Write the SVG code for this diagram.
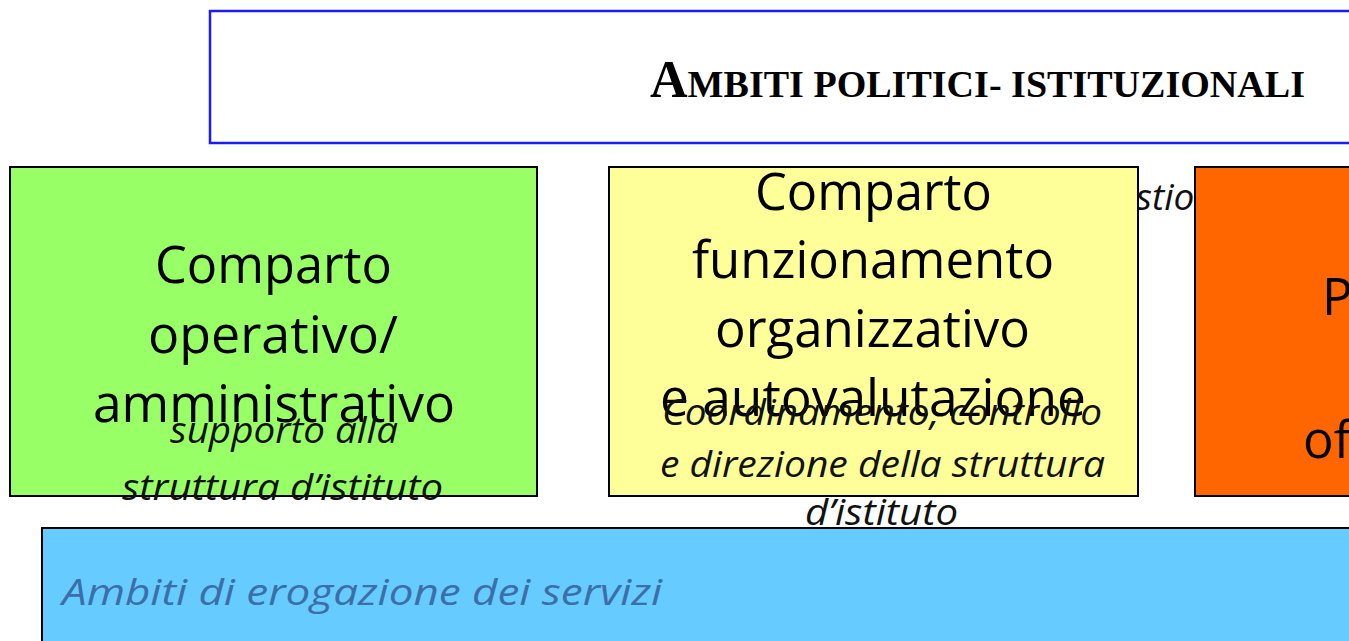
<svg xmlns="http://www.w3.org/2000/svg" width="1349" height="641" viewBox="0 0 1349 641">
<style>
.box{stroke:#000;stroke-width:2}
.big{font-family:"Open Sans","Noto Sans",sans-serif;font-size:51px;fill:#000;text-anchor:start}
.it{font-family:"Open Sans","Noto Sans",sans-serif;font-style:italic;font-size:37px;fill:#111}
.title{font-family:"Liberation Serif","Times New Roman",serif;font-weight:bold;fill:#000}
</style>
<rect width="1349" height="641" fill="#fff"/>
<g id="title">
<rect x="210" y="11" width="1150" height="132" fill="#fff" stroke="#1a1aff" stroke-width="2.5"/>
<text class="title" x="650" y="97" textLength="655" lengthAdjust="spacingAndGlyphs"><tspan font-size="52">A</tspan><tspan font-size="38">MBITI POLITICI- ISTITUZIONALI</tspan></text>
</g>
<g id="hidden-label">
<text class="it" x="1136" y="210">stio</text>
</g>
<g id="comparto-operativo">
<rect class="box" x="10" y="167" width="527" height="329" fill="#99ff66"/>
<text class="big" x="155" y="283" textLength="237" lengthAdjust="spacingAndGlyphs">Comparto</text>
<text class="big" x="148" y="353" textLength="250" lengthAdjust="spacingAndGlyphs">operativo/</text>
<text class="big" x="93" y="422" textLength="362" lengthAdjust="spacingAndGlyphs">amministrativo</text>
<text class="it" x="170" y="443" textLength="228" lengthAdjust="spacingAndGlyphs">supporto alla</text>
<text class="it" x="122" y="500" textLength="321" lengthAdjust="spacingAndGlyphs">struttura d’istituto</text>
</g>
<g id="comparto-funzionamento">
<rect class="box" x="609" y="167" width="529" height="329" fill="#ffff99"/>
<text class="big" x="755" y="210" textLength="237" lengthAdjust="spacingAndGlyphs">Comparto</text>
<text class="big" x="692" y="278" textLength="362" lengthAdjust="spacingAndGlyphs">funzionamento</text>
<text class="big" x="715" y="347" textLength="315" lengthAdjust="spacingAndGlyphs">organizzativo</text>
<text class="big" x="660" y="416" textLength="426" lengthAdjust="spacingAndGlyphs">e autovalutazione</text>
<text class="it" x="662" y="425" textLength="440" lengthAdjust="spacingAndGlyphs">Coordinamento, controllo</text>
<text class="it" x="660" y="477" textLength="445" lengthAdjust="spacingAndGlyphs">e direzione della struttura</text>
<text class="it" x="805" y="525" textLength="153" lengthAdjust="spacingAndGlyphs">d’istituto</text>
</g>
<g id="comparto-pof">
<rect class="box" x="1195" y="167" width="170" height="329" fill="#ff6600"/>
<text class="big" x="1322" y="315">P</text>
<text class="big" x="1303" y="458">of</text>
</g>
<g id="ambiti-erogazione">
<rect class="box" x="42" y="528" width="1320" height="130" fill="#66ccff"/>
<text class="it" x="62" y="605" fill="#3c6ea8" style="fill:#3c6ea8" textLength="600" lengthAdjust="spacingAndGlyphs">Ambiti di erogazione dei servizi</text>
</g>
<g id="connectors"/>
</svg>
